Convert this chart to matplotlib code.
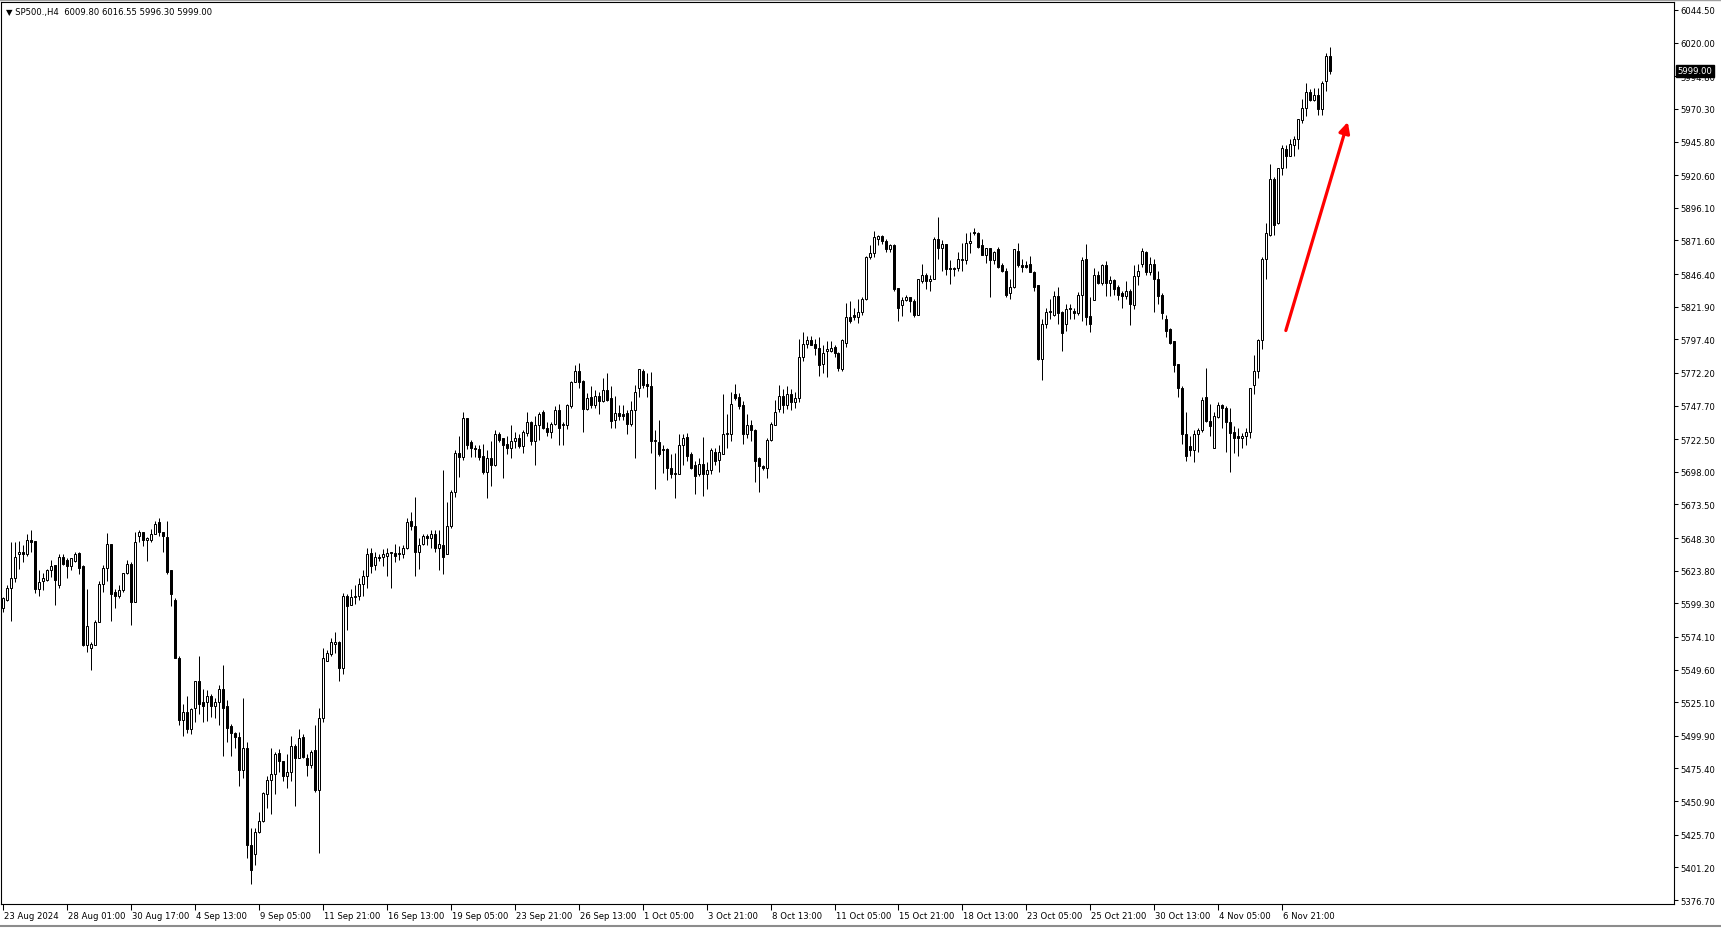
import numpy as np
import matplotlib.pyplot as plt
import matplotlib.transforms as mtransforms
from matplotlib.lines import Line2D

# SP500 H4 candles, 23 Aug 2024 .. 8 Nov 2024
opens = [
    5596, 5602, 5611, 5618, 5636, 5638, 5636, 5647, 5646, 5610,
    5616, 5617, 5624, 5628, 5613, 5634, 5632, 5627, 5631, 5637,
    5627, 5568, 5566, 5568, 5585, 5614, 5626, 5644, 5608, 5605,
    5609, 5622, 5629, 5600, 5650, 5653, 5647, 5647, 5651, 5660,
    5653, 5649, 5624, 5602, 5558, 5512, 5518, 5505, 5521, 5541,
    5525, 5525, 5530, 5522, 5525, 5535, 5522, 5507, 5502, 5499,
    5474, 5491, 5418, 5411, 5428, 5436, 5456, 5467, 5471, 5487,
    5481, 5470, 5473, 5492, 5483, 5499, 5483, 5478, 5489, 5459,
    5513, 5556, 5561, 5569, 5570, 5551, 5605, 5598, 5604, 5605,
    5614, 5620, 5637, 5628, 5634, 5634, 5635, 5637, 5637, 5636,
    5636, 5641, 5661, 5657, 5638, 5644, 5650, 5648, 5651, 5641,
    5643, 5636, 5657, 5683, 5712, 5709, 5738, 5720, 5716, 5715,
    5710, 5698, 5708, 5703, 5726, 5723, 5719, 5716, 5721, 5723,
    5717, 5727, 5735, 5721, 5733, 5743, 5731, 5728, 5734, 5744,
    5733, 5733, 5747, 5765, 5774, 5766, 5745, 5754, 5748, 5755,
    5751, 5759, 5753, 5737, 5742, 5741, 5742, 5734, 5744, 5761,
    5774, 5764, 5762, 5721, 5720, 5715, 5715, 5701, 5696, 5696,
    5718, 5724, 5711, 5703, 5696, 5704, 5696, 5699, 5713, 5707,
    5711, 5726, 5726, 5756, 5754, 5748, 5726, 5733, 5729, 5708,
    5702, 5701, 5722, 5733, 5745, 5755, 5748, 5756, 5750, 5753,
    5784, 5794, 5797, 5794, 5791, 5779, 5789, 5789, 5792, 5787,
    5775, 5795, 5814, 5816, 5814, 5818, 5828, 5859, 5862, 5873,
    5875, 5871, 5865, 5868, 5836, 5823, 5827, 5829, 5826, 5816,
    5841, 5846, 5841, 5843, 5873, 5866, 5869, 5851, 5851, 5851,
    5857, 5857, 5870, 5878, 5877, 5868, 5861, 5866, 5857, 5865,
    5853, 5849, 5832, 5837, 5864, 5853, 5853, 5854, 5848, 5838,
    5783, 5809, 5818, 5816, 5830, 5818, 5809, 5821, 5819, 5817,
    5831, 5858, 5815, 5827, 5846, 5840, 5853, 5840, 5842, 5837,
    5832, 5830, 5834, 5823, 5845, 5854, 5863, 5848, 5854, 5843,
    5831, 5813, 5805, 5796, 5779, 5761, 5726, 5717, 5714, 5726,
    5729, 5754, 5736, 5716, 5739, 5748, 5746, 5735, 5728, 5725,
    5723, 5725, 5728, 5763, 5774, 5797, 5858, 5876, 5918, 5885,
    5926, 5940, 5935, 5943, 5948, 5962, 5971, 5983, 5977, 5981,
    5970, 5991, 6009.80,
]
closes = [
    5603, 5611, 5618, 5634, 5638, 5636, 5647, 5645, 5610, 5615,
    5618, 5624, 5627, 5617, 5634, 5629, 5627, 5633, 5636, 5626,
    5568, 5582, 5569, 5585, 5614, 5626, 5644, 5606, 5605, 5609,
    5622, 5629, 5600, 5645, 5653, 5647, 5648, 5651, 5659, 5653,
    5650, 5623, 5606, 5558, 5512, 5518, 5505, 5520, 5541, 5524,
    5522, 5530, 5522, 5525, 5535, 5521, 5506, 5502, 5499, 5474,
    5491, 5418, 5399, 5428, 5436, 5457, 5467, 5471, 5486, 5481,
    5470, 5473, 5492, 5483, 5498, 5484, 5478, 5488, 5459, 5513,
    5558, 5562, 5570, 5570, 5551, 5605, 5597, 5604, 5605, 5614,
    5620, 5636, 5627, 5634, 5633, 5636, 5637, 5638, 5635, 5637,
    5641, 5660, 5657, 5638, 5643, 5650, 5648, 5651, 5641, 5644,
    5634, 5657, 5683, 5712, 5709, 5738, 5718, 5716, 5715, 5709,
    5698, 5708, 5703, 5726, 5722, 5718, 5716, 5721, 5723, 5717,
    5728, 5735, 5721, 5733, 5741, 5731, 5728, 5734, 5744, 5731,
    5734, 5748, 5765, 5774, 5765, 5745, 5753, 5748, 5755, 5751,
    5759, 5752, 5736, 5742, 5740, 5740, 5734, 5744, 5758, 5775,
    5763, 5762, 5721, 5722, 5711, 5714, 5701, 5696, 5697, 5718,
    5723, 5710, 5701, 5695, 5704, 5696, 5699, 5714, 5706, 5713,
    5726, 5727, 5749, 5753, 5747, 5726, 5733, 5729, 5706, 5702,
    5701, 5722, 5734, 5743, 5755, 5748, 5756, 5750, 5753, 5784,
    5794, 5797, 5793, 5791, 5778, 5787, 5790, 5791, 5787, 5776,
    5797, 5814, 5811, 5814, 5818, 5828, 5859, 5862, 5874, 5875,
    5871, 5865, 5868, 5835, 5821, 5827, 5829, 5826, 5816, 5843,
    5846, 5841, 5843, 5873, 5866, 5869, 5850, 5850, 5850, 5858,
    5858, 5870, 5871, 5877, 5867, 5861, 5866, 5857, 5863, 5852,
    5849, 5831, 5837, 5865, 5853, 5852, 5852, 5848, 5837, 5783,
    5809, 5818, 5819, 5830, 5817, 5802, 5820, 5820, 5817, 5831,
    5857, 5814, 5809, 5846, 5840, 5853, 5840, 5842, 5835, 5831,
    5830, 5834, 5824, 5845, 5849, 5864, 5848, 5854, 5843, 5830,
    5817, 5804, 5795, 5778, 5761, 5726, 5710, 5714, 5726, 5729,
    5752, 5736, 5732, 5740, 5748, 5746, 5735, 5727, 5723, 5723,
    5725, 5728, 5761, 5774, 5797, 5858, 5877, 5918, 5883, 5926,
    5941, 5935, 5944, 5948, 5963, 5971, 5983, 5977, 5981, 5970,
    5990, 6009.80, 5999.00,
]
highs = [
    5604, 5613, 5645, 5645, 5646, 5643, 5651, 5654, 5646, 5624,
    5622, 5625, 5632, 5628, 5636, 5636, 5633, 5633, 5638, 5638,
    5628, 5610, 5570, 5587, 5616, 5628, 5652, 5644, 5610, 5613,
    5622, 5632, 5630, 5653, 5654, 5653, 5649, 5655, 5661, 5663,
    5653, 5661, 5624, 5603, 5560, 5524, 5530, 5521, 5541, 5560,
    5535, 5534, 5531, 5528, 5538, 5553, 5527, 5509, 5503, 5503,
    5528, 5495, 5431, 5431, 5443, 5458, 5470, 5491, 5488, 5490,
    5481, 5486, 5500, 5494, 5505, 5501, 5486, 5489, 5508, 5521,
    5566, 5564, 5573, 5578, 5571, 5607, 5606, 5610, 5613, 5618,
    5624, 5641, 5641, 5638, 5636, 5640, 5641, 5638, 5644, 5642,
    5643, 5663, 5668, 5679, 5648, 5651, 5651, 5654, 5654, 5654,
    5699, 5675, 5684, 5714, 5725, 5743, 5738, 5722, 5718, 5718,
    5719, 5714, 5721, 5729, 5728, 5723, 5725, 5733, 5728, 5726,
    5729, 5743, 5736, 5740, 5743, 5744, 5735, 5735, 5747, 5749,
    5735, 5749, 5766, 5778, 5780, 5767, 5757, 5762, 5759, 5758,
    5768, 5772, 5762, 5755, 5748, 5748, 5744, 5751, 5763, 5775,
    5775, 5772, 5773, 5729, 5737, 5718, 5716, 5711, 5712, 5726,
    5726, 5727, 5713, 5706, 5708, 5724, 5705, 5716, 5716, 5718,
    5756, 5741, 5758, 5764, 5757, 5751, 5741, 5737, 5730, 5709,
    5703, 5723, 5735, 5752, 5763, 5760, 5762, 5760, 5758, 5798,
    5803, 5800, 5800, 5798, 5799, 5793, 5796, 5796, 5793, 5788,
    5798, 5825, 5826, 5821, 5828, 5829, 5860, 5868, 5879, 5876,
    5876, 5873, 5869, 5869, 5836, 5829, 5831, 5829, 5828, 5843,
    5854, 5847, 5846, 5874, 5889, 5872, 5869, 5857, 5852, 5863,
    5870, 5877, 5878, 5881, 5878, 5873, 5866, 5866, 5864, 5867,
    5855, 5851, 5843, 5865, 5870, 5858, 5856, 5860, 5849, 5838,
    5813, 5821, 5828, 5834, 5837, 5819, 5824, 5824, 5821, 5833,
    5859, 5869, 5829, 5851, 5849, 5854, 5856, 5845, 5843, 5838,
    5834, 5841, 5835, 5853, 5854, 5866, 5864, 5859, 5858, 5849,
    5832, 5816, 5806, 5796, 5779, 5762, 5743, 5725, 5729, 5731,
    5754, 5776, 5749, 5743, 5750, 5749, 5747, 5746, 5732, 5731,
    5727, 5731, 5761, 5786, 5798, 5859, 5885, 5929, 5919, 5926,
    5943, 5943, 5948, 5950, 5963, 5978, 5990, 5985, 5986, 5986,
    5991, 6012, 6016.55,
]
lows = [
    5593, 5601, 5586, 5615, 5625, 5630, 5635, 5638, 5607, 5605,
    5609, 5616, 5619, 5598, 5611, 5628, 5618, 5624, 5630, 5621,
    5567, 5563, 5549, 5568, 5585, 5608, 5616, 5586, 5596, 5603,
    5608, 5621, 5583, 5600, 5645, 5642, 5631, 5645, 5651, 5650,
    5638, 5621, 5597, 5558, 5508, 5500, 5502, 5501, 5510, 5516,
    5510, 5511, 5514, 5513, 5508, 5485, 5495, 5485, 5491, 5462,
    5468, 5408, 5389, 5403, 5427, 5435, 5446, 5441, 5456, 5473,
    5466, 5461, 5466, 5447, 5483, 5483, 5470, 5476, 5458, 5412,
    5510, 5556, 5560, 5562, 5541, 5546, 5579, 5598, 5599, 5602,
    5605, 5611, 5622, 5624, 5631, 5627, 5620, 5611, 5630, 5632,
    5633, 5640, 5654, 5620, 5625, 5643, 5643, 5641, 5638, 5624,
    5621, 5636, 5656, 5679, 5694, 5707, 5715, 5709, 5709, 5707,
    5696, 5678, 5687, 5702, 5720, 5693, 5711, 5708, 5716, 5716,
    5712, 5725, 5718, 5703, 5722, 5730, 5725, 5723, 5733, 5718,
    5718, 5730, 5746, 5765, 5761, 5728, 5744, 5746, 5746, 5741,
    5750, 5751, 5731, 5731, 5737, 5737, 5726, 5732, 5708, 5754,
    5761, 5754, 5712, 5685, 5710, 5697, 5692, 5693, 5678, 5696,
    5703, 5706, 5700, 5681, 5695, 5680, 5685, 5696, 5703, 5698,
    5711, 5716, 5721, 5752, 5745, 5719, 5723, 5721, 5690, 5683,
    5699, 5693, 5721, 5733, 5743, 5742, 5745, 5744, 5746, 5750,
    5781, 5791, 5793, 5786, 5770, 5772, 5769, 5788, 5784, 5774,
    5774, 5792, 5810, 5812, 5810, 5816, 5827, 5858, 5859, 5868,
    5869, 5863, 5863, 5834, 5811, 5815, 5826, 5818, 5814, 5816,
    5840, 5835, 5834, 5843, 5858, 5849, 5846, 5839, 5845, 5849,
    5849, 5854, 5862, 5876, 5866, 5861, 5855, 5829, 5854, 5851,
    5848, 5829, 5828, 5836, 5852, 5848, 5851, 5848, 5834, 5782,
    5767, 5806, 5813, 5815, 5809, 5789, 5804, 5813, 5813, 5816,
    5811, 5808, 5803, 5827, 5839, 5838, 5830, 5830, 5831, 5827,
    5821, 5828, 5808, 5820, 5838, 5852, 5846, 5846, 5818, 5824,
    5813, 5799, 5794, 5773, 5754, 5719, 5706, 5710, 5705, 5713,
    5728, 5735, 5725, 5716, 5738, 5731, 5713, 5698, 5712, 5710,
    5716, 5718, 5723, 5756, 5768, 5790, 5843, 5875, 5876, 5884,
    5921, 5926, 5935, 5935, 5940, 5960, 5965, 5976, 5976, 5966,
    5966, 5984, 5996.30,
]

date_labels = ["23 Aug 2024", "28 Aug 01:00", "30 Aug 17:00", "4 Sep 13:00",
               "9 Sep 05:00", "11 Sep 21:00", "16 Sep 13:00", "19 Sep 05:00",
               "23 Sep 21:00", "26 Sep 13:00", "1 Oct 05:00", "3 Oct 21:00",
               "8 Oct 13:00", "11 Oct 05:00", "15 Oct 21:00", "18 Oct 13:00",
               "23 Oct 05:00", "25 Oct 21:00", "30 Oct 13:00", "4 Nov 05:00",
               "6 Nov 21:00"]
bars_per_label = 16

price_ticks = [6044.50, 6020.00, 5994.80, 5970.30, 5945.80, 5920.60, 5896.10,
               5871.60, 5846.40, 5821.90, 5797.40, 5772.20, 5747.70, 5722.50,
               5698.00, 5673.50, 5648.30, 5623.80, 5599.30, 5574.10, 5549.60,
               5525.10, 5499.90, 5475.40, 5450.90, 5425.70, 5401.20, 5376.70]

symbol = "SP500.,H4"
last_price = 5999.00

o = np.array(opens, dtype=float)
c = np.array(closes, dtype=float)
h = np.array(highs, dtype=float)
l = np.array(lows, dtype=float)
x = np.arange(len(o))

W, H = 1721, 929
fig = plt.figure(figsize=(W / 100, H / 100), dpi=100)
fig.patch.set_facecolor('white')
ax = fig.add_axes([0.5 / W, 24 / H, 1673 / W, 902 / H])

fs = 6.1
px = 0.72  # one pixel in points at 100 dpi
ax.vlines(x, l, h, colors='black', linewidth=px, zorder=2)
up = c >= o
ax.bar(x, np.abs(c - o), bottom=np.minimum(o, c), width=0.5,
       color=np.where(up, 'white', 'black'), edgecolor='black',
       linewidth=px, zorder=3)

ax.set_xlim(-0.625, 417.875)
ax.set_ylim(5373.7, 6050.5)

for s in ax.spines.values():
    s.set_linewidth(0.8)
    s.set_color('black')

ax.yaxis.tick_right()
ax.set_yticks(price_ticks)
ax.set_yticklabels(['%.2f' % v for v in price_ticks])
ax.tick_params(axis='y', direction='out', length=3, width=0.75, pad=2,
               labelsize=fs, colors='black')

ax.set_xticks(np.arange(len(date_labels)) * bars_per_label)
ax.set_xticklabels(date_labels, ha='left')
ax.tick_params(axis='x', direction='out', length=4, width=0.75, pad=1,
               labelsize=fs, colors='black')
shift = mtransforms.ScaledTranslation(1 / 100, 0, fig.dpi_scale_trans)
for lbl in ax.get_xticklabels():
    lbl.set_transform(lbl.get_transform() + shift)

# current price marker on the price scale
ax.text(1 + 4 / 1673, last_price, '%.2f' % last_price,
        transform=ax.get_yaxis_transform(), ha='left', va='center',
        fontsize=fs, color='white', clip_on=False, zorder=10,
        bbox=dict(boxstyle='square,pad=0.18', fc='black', ec='black'))

# header line
ax.text(6 / 1673, 1 - 10 / 902,
        '\u25bc ' + symbol + '  ' + ' '.join('%.2f' % v for v in
                                             [o[-1], h[-1], l[-1], c[-1]]),
        transform=ax.transAxes, ha='left', va='center', fontsize=fs,
        color='black')

# red arrow
ax.annotate('', xy=(336.4, 5960.5), xytext=(320.9, 5804.0),
            arrowprops=dict(arrowstyle='-|>', color='#ff0000', lw=2.3,
                            mutation_scale=16, shrinkA=0, shrinkB=0),
            zorder=6)

# window frame lines
fig.add_artist(Line2D([0, 1], [1 - 0.5 / H] * 2, color='#a0a0a0', lw=1))
fig.add_artist(Line2D([0, 1], [2.5 / H] * 2, color='#8c8c8c', lw=1.5))

fig.savefig('out.png', dpi=100, facecolor='white')
